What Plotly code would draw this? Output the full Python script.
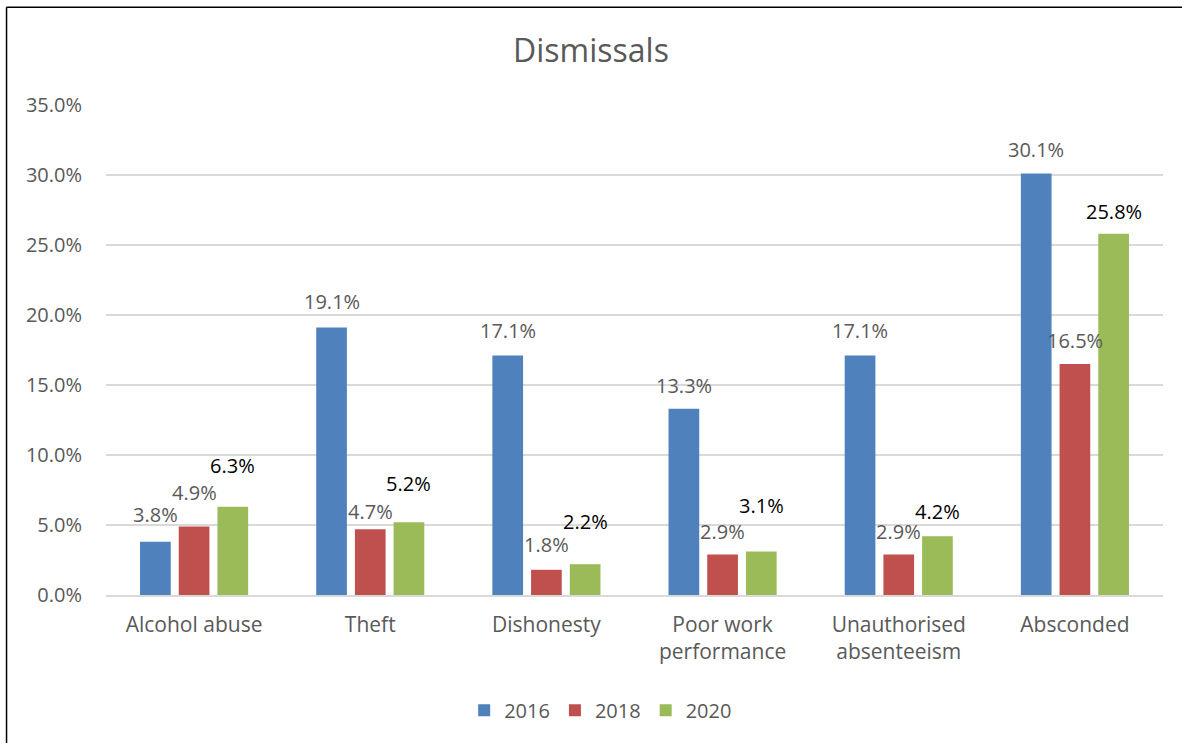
import plotly.graph_objects as go

# Dismissal reasons and share of dismissals per survey year (%)
categories = ["Alcohol abuse", "Theft", "Dishonesty", "Poor work<br>performance",
              "Unauthorised<br>absenteeism", "Absconded"]
years = ["2016", "2018", "2020"]
values_2016 = [3.8, 19.1, 17.1, 13.3, 17.1, 30.1]
values_2018 = [4.9, 4.7, 1.8, 2.9, 2.9, 16.5]
values_2020 = [6.3, 5.2, 2.2, 3.1, 4.2, 25.8]

series = [values_2016, values_2018, values_2020]
colors = ["#4F81BD", "#C0504D", "#9BBB59"]
label_colors = ["#595959", "#595959", "#000000"]
# vertical lift of each value label above its bar top (px)
label_lift = [
    [27, 26, 25, 23, 25, 24],
    [34, 18, 25, 23, 23, 24],
    [41, 39, 43, 46, 25, 22],
]

FONT = "'Open Sans', 'Noto Sans', sans-serif"
GREY = "#595959"
BARGAP = 0.341
GROUPGAP = 0.207

fig = go.Figure()
for name, vals, col in zip(years, series, colors):
    fig.add_trace(go.Bar(name=name, x=categories, y=vals, marker_color=col,
                         marker_line_width=0, hoverinfo="x+y"))

# value labels above bars
slot = (1 - BARGAP) / len(series)
annotations = []
for si, (vals, lc) in enumerate(zip(series, label_colors)):
    offset = (si - (len(series) - 1) / 2) * slot
    for ci, v in enumerate(vals):
        annotations.append(dict(
            x=ci + offset, y=v, xref="x", yref="y", text=f"{v:.1f}%",
            showarrow=False, yanchor="middle", yshift=label_lift[si][ci],
            font=dict(family=FONT, size=20, color=lc)))

fig.update_layout(
    width=1182, height=743,
    margin=dict(l=106, r=19, t=105, b=148),
    paper_bgcolor="white", plot_bgcolor="white",
    barmode="group", bargap=BARGAP, bargroupgap=GROUPGAP,
    title=dict(text="Dismissals", x=0.5, xanchor="center", y=0.932, yanchor="middle",
               font=dict(family=FONT, size=32, color=GREY)),
    font=dict(family=FONT, size=20, color=GREY),
    xaxis=dict(showgrid=False, showline=True, linecolor="#D9D9D9", linewidth=1.5,
               ticks="", tickfont=dict(size=21, color=GREY), ticklabelstandoff=10),
    yaxis=dict(range=[0, 35], dtick=5, tickformat=".1f", ticksuffix="%",
               showgrid=True, gridcolor="#D9D9D9", gridwidth=1.5,
               zeroline=False, showline=False, ticks="",
               tickfont=dict(size=20, color=GREY), ticklabelstandoff=23),
    legend=dict(orientation="h", x=0.468, xanchor="center", y=-0.235, yanchor="middle",
                font=dict(size=20, color=GREY), itemwidth=30, traceorder="normal"),
    annotations=annotations,
    # frame: left and top edges of the chart area
    shapes=[
        dict(type="line", xref="paper", yref="paper", x0=-0.0941, x1=-0.0941,
             y0=-0.6, y1=1.1996, line=dict(color="#000000", width=1.5)),
        dict(type="line", xref="paper", yref="paper", x0=-0.0941, x1=1.2,
             y0=1.1996, y1=1.1996, line=dict(color="#000000", width=1.5)),
    ],
)

fig.write_html("out.html")
